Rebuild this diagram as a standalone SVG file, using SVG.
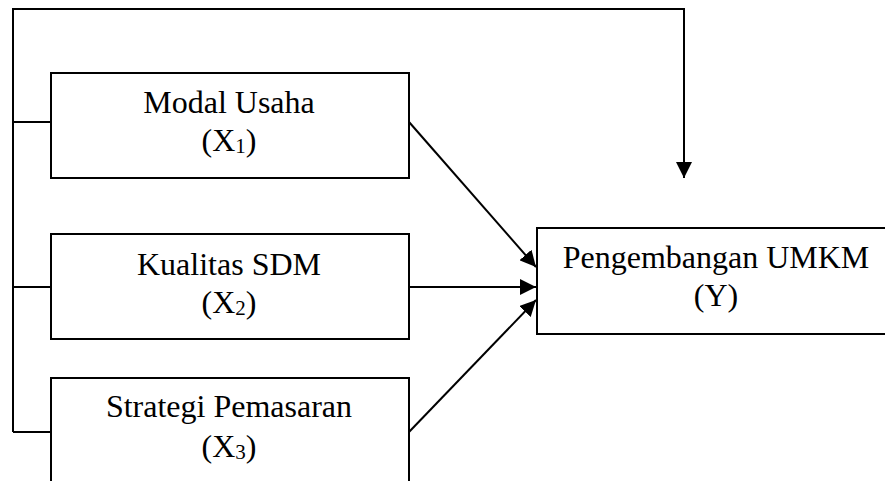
<svg xmlns="http://www.w3.org/2000/svg" width="885" height="481" viewBox="0 0 885 481">
<style>
.box{fill:#fff;stroke:#000;stroke-width:2}
.ln{fill:none;stroke:#000;stroke-width:2}
.t{font-family:"Liberation Serif","Times New Roman",serif;font-size:32px;fill:#000;text-anchor:middle}
.sub{font-size:21px}
</style>
<defs>
<marker id="ah" markerUnits="userSpaceOnUse" markerWidth="17" markerHeight="16" refX="16" refY="8" orient="auto">
<path d="M0,0 L16,8 L0,16 Z" fill="#000"/>
</marker>
</defs>
<rect width="885" height="481" fill="#fff"/>
<g id="connectors">
<path class="ln" d="M13,432 V9 H684 V178" marker-end="url(#ah)"/>
<path class="ln" d="M13,122 H51"/>
<path class="ln" d="M13,287 H51"/>
<path class="ln" d="M13,432 H51"/>
<path class="ln" d="M409,122 L536,267" marker-end="url(#ah)"/>
<path class="ln" d="M409,287 L536,287" marker-end="url(#ah)"/>
<path class="ln" d="M409,432 L536,300" marker-end="url(#ah)"/>
</g>
<g id="x1">
<rect class="box" x="51" y="73" width="358" height="105"/>
<text class="t" x="229" y="113">Modal Usaha</text>
<text class="t" x="229" y="151">(X<tspan class="sub" dy="2">1</tspan><tspan dy="-2">)</tspan></text>
</g>
<g id="x2">
<rect class="box" x="51" y="234" width="358" height="105"/>
<text class="t" x="229" y="275">Kualitas SDM</text>
<text class="t" x="229" y="313">(X<tspan class="sub" dy="2">2</tspan><tspan dy="-2">)</tspan></text>
</g>
<g id="x3">
<rect class="box" x="51" y="378" width="358" height="110"/>
<text class="t" x="229" y="417">Strategi Pemasaran</text>
<text class="t" x="229" y="457">(X<tspan class="sub" dy="2">3</tspan><tspan dy="-2">)</tspan></text>
</g>
<g id="y">
<rect class="box" x="537" y="228" width="360" height="106"/>
<text class="t" x="716" y="268">Pengembangan UMKM</text>
<text class="t" x="716" y="306">(Y)</text>
</g>
</svg>
